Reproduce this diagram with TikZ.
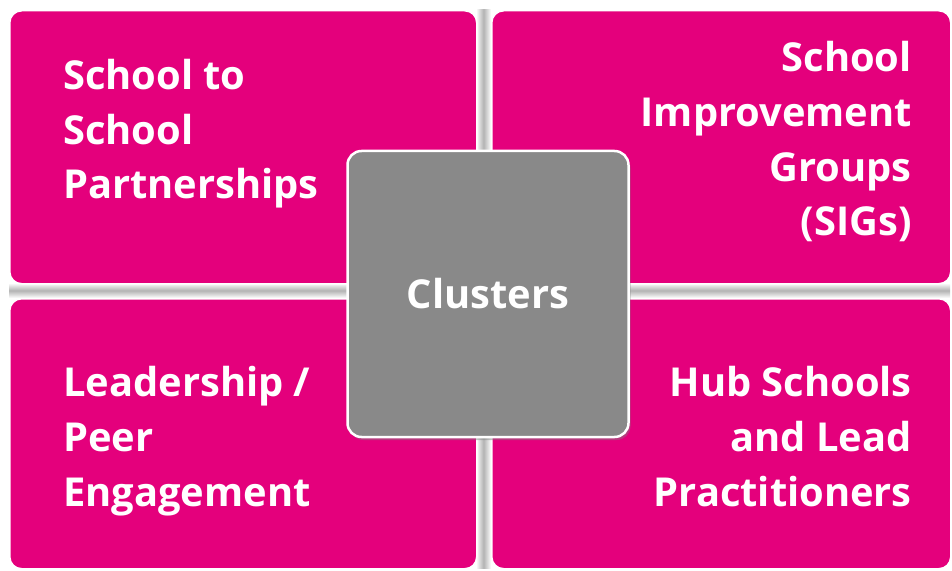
\documentclass[tikz,border=0pt]{standalone}
\usepackage{fontspec}
\setmainfont{Open Sans}
\usetikzlibrary{shadows}
\definecolor{tilepink}{RGB}{228,0,124}
\definecolor{hubgrey}{RGB}{137,137,137}
\tikzset{
  tile/.style={draw=white, line width=1.5bp, fill=tilepink, rounded corners=12bp,
    anchor=north west, inner sep=0pt, minimum width=467bp, minimum height=273bp},
  tiletext/.style={text=white, font=\bfseries\fontsize{40}{55}\selectfont, inner sep=0pt},
  hub/.style={draw=white, line width=2.5bp, fill=hubgrey, rounded corners=14bp,
    minimum width=281bp, minimum height=286bp, inner sep=0pt,
    drop shadow={shadow xshift=2bp, shadow yshift=-3bp, opacity=0.45}}
}
\begin{document}
\begin{tikzpicture}[x=1bp, y=-1bp]
  \useasboundingbox (0,0) rectangle (952,571);
  % gaps between the tiles
  \shade[left color=white, right color=white, middle color=gray!60] (476,10) rectangle (491,568);
  \shade[top color=white, bottom color=white, middle color=gray!60] (9,283) rectangle (950,298);
  % tiles
  \node[tile] (tl) at (9,10) {};
  \node[tile, minimum width=459bp] (tr) at (491,10) {};
  \node[tile, minimum height=270bp] (bl) at (9,298) {};
  \node[tile, minimum width=459bp, minimum height=270bp] (br) at (491,298) {};
  % labels (base = last line)
  \node[tiletext, anchor=base west, align=left] (tllabel) at (63,199) {School to\\School\\Partnerships};
  \node[tiletext, anchor=base east, align=right] (trlabel) at (912,236) {School\\Improvement\\Groups\\(SIGs)};
  \node[tiletext, anchor=base west, align=left] (bllabel) at (63,506) {Leadership /\\Peer\\Engagement};
  \node[tiletext, anchor=base east, align=right] (brlabel) at (912,506) {Hub Schools\\and Lead\\Practitioners};
  % centre
  \node[hub, tiletext] (hub) at (488,294) {Clusters};
\end{tikzpicture}
\end{document}
